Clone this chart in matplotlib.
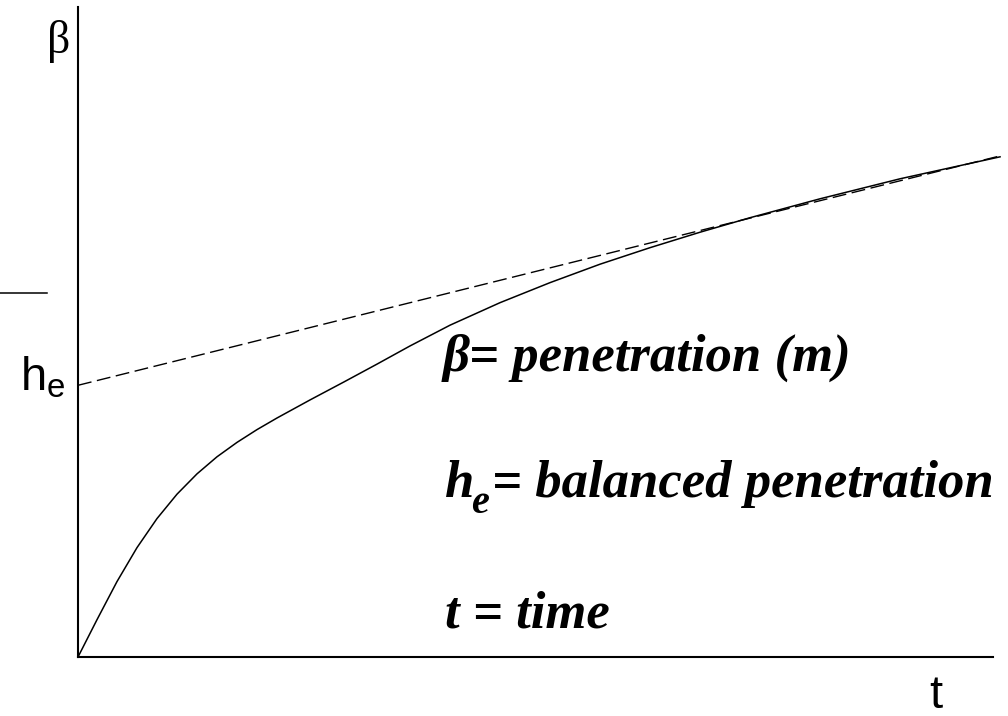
import numpy as np
import matplotlib
matplotlib.use('Agg')
import matplotlib.pyplot as plt

# penetration curve (t, beta)
t_curve = [0.0, 0.208, 0.426, 0.645, 0.863, 1.082, 1.301, 1.519, 1.738, 1.956,
           2.175, 2.536, 2.907, 3.268, 3.628, 4.066, 4.612, 5.158, 5.705,
           6.251, 6.798, 7.344, 8.109, 8.984, 10.077]
beta_curve = [0.0, 0.575, 1.160, 1.683, 2.129, 2.505, 2.818, 3.080, 3.302, 3.498,
              3.677, 3.955, 4.232, 4.506, 4.785, 5.105, 5.451, 5.759, 6.043,
              6.297, 6.535, 6.758, 7.049, 7.357, 7.695]

# asymptote
t_asym = [0.0, 10.08]
beta_asym = [4.18, 7.71]

# the little dash at the left edge
t_mark = [-0.85, -0.34]
beta_mark = [5.6, 5.6]

plt.rcParams['mathtext.fontset'] = 'custom'
plt.rcParams['mathtext.sf'] = 'Liberation Sans'

fig = plt.figure(figsize=(10.08, 7.16), dpi=100)
ax = fig.add_axes([78 / 1008, 59 / 716, 915 / 1008, 650 / 716])
ax.set_xlim(0, 10)
ax.set_ylim(0, 10)
for s in ['top', 'right']:
    ax.spines[s].set_visible(False)
ax.spines['left'].set_linewidth(1.5)
ax.spines['bottom'].set_linewidth(1.5)
ax.set_xticks([])
ax.set_yticks([])

ax.plot(t_curve, beta_curve, color='black', lw=1.1, clip_on=False,
        solid_joinstyle='round')
ax.plot(t_asym, beta_asym, color='black', lw=1.0, dashes=(10, 4), clip_on=False)
ax.plot(t_mark, beta_mark, color='black', lw=1.1, clip_on=False)

# axis labels
ax.text(-0.08, 9.3, 'β', fontfamily='Liberation Serif', fontsize=33,
        ha='right', va='baseline')
ax.text(-0.63, 4.1, r'$\mathsf{h_e}$', fontfamily='Liberation Sans', fontsize=34,
        ha='left', va='baseline')
ax.text(9.38, -0.79, 't', fontfamily='Liberation Sans', fontsize=34,
        ha='center', va='baseline')

# legend text
kw = dict(fontfamily='Liberation Serif', fontstyle='italic', fontweight='bold',
          va='baseline')
ax.text(3.99, 4.41, 'β= penetration (m)', fontsize=38, **kw)
ax.text(4.01, 2.46, 'h', fontsize=38, **kw)
ax.text(4.30, 2.22, 'e', fontsize=29, **kw)
ax.text(4.53, 2.46, '= balanced penetration', fontsize=38, **kw)
ax.text(4.01, 0.46, 't = time', fontsize=38, **kw)

fig.savefig('out.png', dpi=100)
